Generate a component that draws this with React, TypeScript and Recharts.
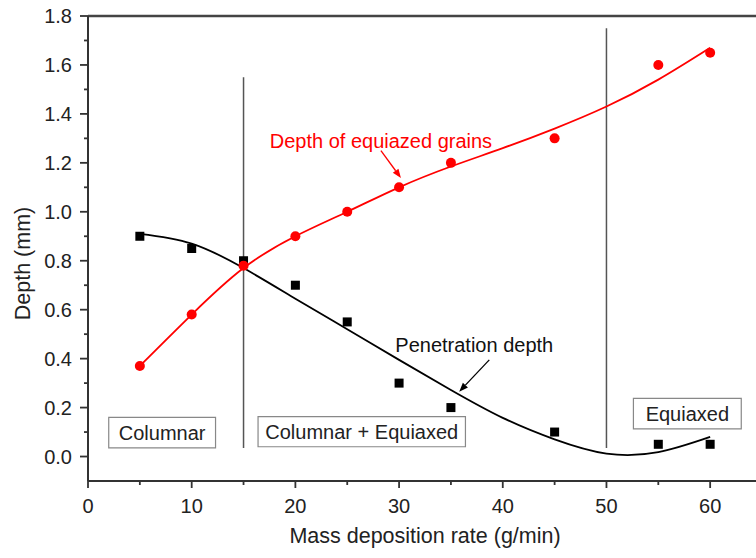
import React from 'react';
import {
  ComposedChart, Line, Scatter, XAxis, YAxis, ReferenceLine, ReferenceArea, ReferenceDot,
} from 'recharts';

// Measured points
const penetrationPoints = [
  { x: 5, y: 0.9 }, { x: 10, y: 0.85 }, { x: 15, y: 0.8 }, { x: 20, y: 0.7 }, { x: 25, y: 0.55 },
  { x: 30, y: 0.3 }, { x: 35, y: 0.2 }, { x: 45, y: 0.1 }, { x: 55, y: 0.05 }, { x: 60, y: 0.05 },
];
const equiaxedPoints = [
  { x: 5, y: 0.37 }, { x: 10, y: 0.58 }, { x: 15, y: 0.78 }, { x: 20, y: 0.9 }, { x: 25, y: 1.0 },
  { x: 30, y: 1.1 }, { x: 35, y: 1.2 }, { x: 45, y: 1.3 }, { x: 55, y: 1.6 }, { x: 60, y: 1.65 },
];
// Fitted curves
const penetrationFit = [
  { x: 5, y: 0.91 }, { x: 10, y: 0.87 }, { x: 15, y: 0.77 }, { x: 20, y: 0.645 }, { x: 25, y: 0.52 },
  { x: 30, y: 0.395 }, { x: 35, y: 0.272 }, { x: 40, y: 0.158 }, { x: 45, y: 0.07 }, { x: 50, y: 0.012 },
  { x: 55, y: 0.018 }, { x: 60, y: 0.08 },
];
const equiaxedFit = [
  { x: 5, y: 0.37 }, { x: 10, y: 0.58 }, { x: 15, y: 0.77 }, { x: 20, y: 0.9 }, { x: 25, y: 1.0 },
  { x: 30, y: 1.1 }, { x: 35, y: 1.185 }, { x: 40, y: 1.26 }, { x: 45, y: 1.34 }, { x: 50, y: 1.43 },
  { x: 55, y: 1.54 }, { x: 60, y: 1.67 },
];

const xTicks = [0, 5, 10, 15, 20, 25, 30, 35, 40, 45, 50, 55, 60, 65];
const yTicks = [0, 0.1, 0.2, 0.3, 0.4, 0.5, 0.6, 0.7, 0.8, 0.9, 1.0, 1.1, 1.2, 1.3, 1.4, 1.5, 1.6, 1.7, 1.8];

const regionBoxes = [
  { label: 'Columnar', x1: 2.0, x2: 12.3, y1: 0.035, y2: 0.16 },
  { label: 'Columnar + Equiaxed', x1: 16.4, x2: 36.4, y1: 0.04, y2: 0.163 },
  { label: 'Equiaxed', x1: 52.6, x2: 63.0, y1: 0.113, y2: 0.238 },
];
const regionDividers = [
  { x: 15, yBottom: 0.035, yTop: 1.55 },
  { x: 50, yBottom: 0.035, yTop: 1.75 },
];

const FONT = '"Liberation Sans", Arial, Helvetica, sans-serif';
const AXIS = '#333';

const XTick = (props: any) => {
  const { x, y, payload } = props;
  const major = payload.value % 10 === 0;
  return (
    <g>
      <line x1={x} x2={x} y1={y} y2={y + (major ? 7 : 4)} stroke={AXIS} strokeWidth={1.8} />
      {major && (
        <text x={x} y={y + 32} textAnchor="middle" fontSize={20} fill="#222" fontFamily={FONT}>
          {payload.value}
        </text>
      )}
    </g>
  );
};

const YTick = (props: any) => {
  const { x, y, payload } = props;
  const major = Math.round(payload.value * 10) % 2 === 0;
  return (
    <g>
      <line x1={x - (major ? 8 : 4)} x2={x} y1={y} y2={y} stroke={AXIS} strokeWidth={1.8} />
      {major && (
        <text x={x - 16} y={y + 7} textAnchor="end" fontSize={20} fill="#222" fontFamily={FONT}>
          {payload.value.toFixed(1)}
        </text>
      )}
    </g>
  );
};

const YTitle = (props: any) => {
  const { viewBox } = props;
  const cx = 30;
  const cy = viewBox.y + viewBox.height / 2 + 15;
  return (
    <text
      x={cx}
      y={cy}
      transform={`rotate(-90, ${cx}, ${cy})`}
      textAnchor="middle"
      fontSize={21.5}
      fill="#222"
      fontFamily={FONT}
    >
      Depth (mm)
    </text>
  );
};

const XTitle = (props: any) => {
  const { viewBox } = props;
  const cx = viewBox.x + viewBox.width / 2;
  return (
    <text x={cx} y={543} textAnchor="middle" fontSize={21.5} fill="#222" fontFamily={FONT}>
      Mass deposition rate (g/min)
    </text>
  );
};

const Square = (props: any) => {
  const { cx, cy } = props;
  return <rect x={cx - 4.5} y={cy - 4.5} width={9} height={9} fill="#000" />;
};
const Dot = (props: any) => {
  const { cx, cy } = props;
  return <circle cx={cx} cy={cy} r={5} fill="#ff0000" />;
};

const arrowShape = (color: string) => (props: any) => {
  const { x1, y1, x2, y2 } = props;
  const dx = x2 - x1;
  const dy = y2 - y1;
  const len = Math.sqrt(dx * dx + dy * dy) || 1;
  const ux = dx / len;
  const uy = dy / len;
  const hl = 9;
  const hw = 3.5;
  const bx = x2 - ux * hl;
  const by = y2 - uy * hl;
  const pts = `${x2},${y2} ${bx - uy * hw},${by + ux * hw} ${bx + uy * hw},${by - ux * hw}`;
  return (
    <g>
      <line x1={x1} y1={y1} x2={bx} y2={by} stroke={color} strokeWidth={1.3} />
      <polygon points={pts} fill={color} />
    </g>
  );
};

const textShape = (text: string, color: string) => (props: any) => {
  const { cx, cy } = props;
  return (
    <text x={cx} y={cy + 7} textAnchor="middle" fontSize={20} fill={color} fontFamily={FONT}>
      {text}
    </text>
  );
};

export default function App() {
  return (
    <div style={{ position: 'absolute', left: 0, top: 0, width: 756, height: 558, overflow: 'hidden', background: '#fff' }}>
      <ComposedChart
        width={764}
        height={558}
        margin={{ top: 16, right: 2, bottom: 17, left: 0 }}
        style={{ fontFamily: FONT }}
      >
        <XAxis
          dataKey="x"
          type="number"
          domain={[0, 65]}
          ticks={xTicks}
          interval={0}
          tick={<XTick />}
          tickLine={false}
          tickSize={0}
          tickMargin={0}
          axisLine={{ stroke: AXIS, strokeWidth: 2 }}
          height={60}
          allowDataOverflow
          label={<XTitle />}
        />
        <YAxis
          type="number"
          domain={[-0.1, 1.8]}
          ticks={yTicks}
          interval={0}
          tick={<YTick />}
          tickLine={false}
          tickSize={0}
          tickMargin={0}
          axisLine={{ stroke: AXIS, strokeWidth: 2 }}
          width={88}
          allowDataOverflow
          label={<YTitle />}
        />
        <ReferenceLine y={1.8} stroke="#444" strokeWidth={2.5} />
        {regionDividers.map((d) => (
          <ReferenceLine
            key={d.x}
            segment={[{ x: d.x, y: d.yBottom }, { x: d.x, y: d.yTop }]}
            stroke="#555"
            strokeWidth={1.5}
          />
        ))}
        {regionBoxes.map((b) => (
          <ReferenceArea
            key={b.label}
            x1={b.x1}
            x2={b.x2}
            y1={b.y1}
            y2={b.y2}
            fill="#fff"
            fillOpacity={1}
            stroke="#888"
            strokeWidth={1.2}
            label={{ value: b.label, position: 'center', fontSize: 20, fill: '#222', fontFamily: FONT }}
          />
        ))}
        <Line data={penetrationFit} dataKey="y" type="natural" stroke="#000" strokeWidth={1.8} dot={false} isAnimationActive={false} />
        <Scatter data={penetrationPoints} dataKey="y" shape={<Square />} isAnimationActive={false} />
        <Line data={equiaxedFit} dataKey="y" type="natural" stroke="#ff0000" strokeWidth={1.8} dot={false} isAnimationActive={false} />
        <Scatter data={equiaxedPoints} dataKey="y" shape={<Dot />} isAnimationActive={false} />
        <ReferenceLine segment={[{ x: 28.25, y: 1.25 }, { x: 30.18, y: 1.138 }]} shape={arrowShape('#ff0000')} />
        <ReferenceLine segment={[{ x: 38.7, y: 0.395 }, { x: 35.8, y: 0.265 }]} shape={arrowShape('#000')} />
        <ReferenceDot x={28.25} y={1.29} r={0} shape={textShape('Depth of equiazed grains', '#ff0000')} />
        <ReferenceDot x={37.25} y={0.456} r={0} shape={textShape('Penetration depth', '#111')} />
      </ComposedChart>
    </div>
  );
}
